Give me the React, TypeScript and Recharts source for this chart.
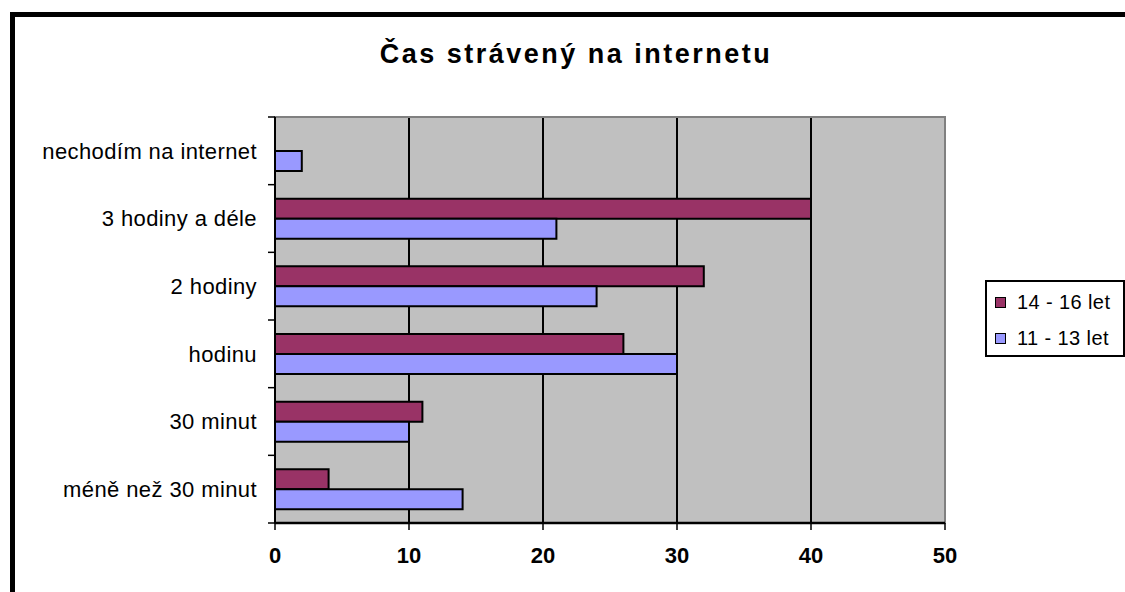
import { BarChart, Bar, XAxis, YAxis, CartesianGrid, Legend, ReferenceArea } from 'recharts'

const categories = ['nechodím na internet', '3 hodiny a déle', '2 hodiny', 'hodinu', '30 minut', 'méně než 30 minut']
const older = [null, 40, 32, 26, 11, 4]
const younger = [2, 21, 24, 30, 10, 14]
const xTicks = [0, 10, 20, 30, 40, 50]

const seriesOlder = '14 - 16 let'
const seriesYounger = '11 - 13 let'

const data = categories.map((name, i) => ({
  name,
  older: older[i],
  younger: younger[i],
}))

const FONT = '"Liberation Sans", Arial, sans-serif'
const W = 1125
const H = 592
// legend (140px wide) is taken out of the right side by recharts
const margin = { top: 117, right: 40, bottom: 0, left: 0 }
const xAxisHeight = 69
const band = (H - margin.top - margin.bottom - xAxisHeight) / categories.length

const legendItems = [
  { label: seriesOlder, color: '#993366' },
  { label: seriesYounger, color: '#9999FF' },
]

function CategoryTick(props: any) {
  const { x, y, payload, index } = props
  const ax = x + 18
  return (
    <g>
      <line x1={ax - 7} x2={ax} y1={y - band / 2} y2={y - band / 2} stroke="#000" strokeWidth={1.5} />
      {index === categories.length - 1 && (
        <line x1={ax - 7} x2={ax} y1={y + band / 2} y2={y + band / 2} stroke="#000" strokeWidth={1.5} />
      )}
      <text
        x={x}
        y={y}
        dy="0.35em"
        textAnchor="end"
        fill="#000"
        fontSize={22}
        fontFamily={FONT}
        letterSpacing={0.4}
      >
        {payload.value}
      </text>
    </g>
  )
}

function LegendBox() {
  return (
    <div
      style={{
        width: 136,
        height: 73,
        border: '2px solid #000',
        background: '#fff',
        boxSizing: 'content-box',
        fontFamily: FONT,
        fontSize: 20,
        color: '#000',
      }}
    >
      {legendItems.map((item, i) => (
        <div
          key={item.label}
          style={{ display: 'flex', alignItems: 'center', height: 36, marginTop: i === 0 ? 2 : 0 }}
        >
          <span
            style={{
              display: 'inline-block',
              width: 9,
              height: 9,
              background: item.color,
              border: '1.5px solid #000',
              marginLeft: 8,
              marginRight: 11,
            }}
          />
          <span style={{ letterSpacing: 0.4, whiteSpace: 'nowrap' }}>{item.label}</span>
        </div>
      ))}
    </div>
  )
}

export default function App() {
  return (
    <div style={{ position: 'absolute', left: 0, top: 0, width: W, height: H, overflow: 'hidden', background: '#fff' }}>
      <div
        style={{
          position: 'absolute',
          left: 10,
          top: 12,
          width: 1200,
          height: 700,
          border: '5px solid #000',
          boxSizing: 'border-box',
        }}
      />
      <div
        style={{
          position: 'absolute',
          left: 0,
          top: 41,
          width: 1152,
          textAlign: 'center',
          fontFamily: FONT,
          fontWeight: 'bold',
          fontSize: 27,
          lineHeight: '27px',
          letterSpacing: 2.5,
          color: '#000',
        }}
      >
        Čas strávený na internetu
      </div>
      <div style={{ position: 'absolute', left: 0, top: 0 }}>
        <BarChart
          width={W}
          height={H}
          data={data}
          layout="vertical"
          margin={margin}
          barSize={20}
          barGap={0}
        >
          <CartesianGrid fill="#C0C0C0" horizontal={false} stroke="#000" strokeWidth={2} />
          <ReferenceArea x1={0} x2={50} fill="none" stroke="#808080" strokeWidth={2} />
          <XAxis
            type="number"
            domain={[0, 50]}
            ticks={xTicks}
            height={xAxisHeight}
            axisLine={{ stroke: '#000', strokeWidth: 2.5 }}
            tickLine={{ stroke: '#000', strokeWidth: 1.5 }}
            tickSize={7}
            tickMargin={17}
            tick={{ fill: '#000', fontSize: 22, fontWeight: 'bold', fontFamily: FONT }}
          />
          <YAxis
            type="category"
            dataKey="name"
            width={275}
            axisLine={{ stroke: '#000', strokeWidth: 2 }}
            tickLine={false}
            tickSize={7}
            tickMargin={11}
            tick={<CategoryTick />}
            interval={0}
          />
          <Legend
            layout="vertical"
            align="right"
            verticalAlign="top"
            content={<LegendBox />}
            wrapperStyle={{ left: 985, top: 280, width: 140 }}
          />
          <Bar
            dataKey="older"
            name={seriesOlder}
            fill="#993366"
            stroke="#000"
            strokeWidth={2}
            isAnimationActive={false}
          />
          <Bar
            dataKey="younger"
            name={seriesYounger}
            fill="#9999FF"
            stroke="#000"
            strokeWidth={2}
            isAnimationActive={false}
          />
        </BarChart>
      </div>
    </div>
  )
}
